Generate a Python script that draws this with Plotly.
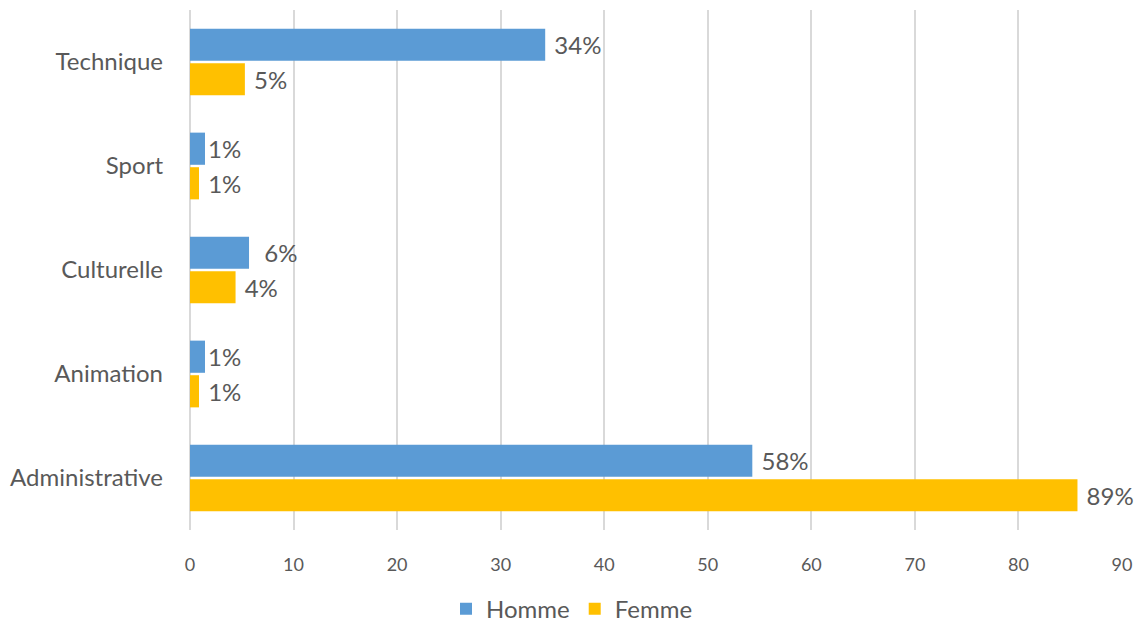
import plotly.graph_objects as go

categories = ["Technique", "Sport", "Culturelle", "Animation", "Administrative"]
homme_values = [34.3, 1.45, 5.7, 1.45, 54.3]
femme_values = [5.3, 0.87, 4.4, 0.87, 85.7]
homme_labels = ["\u00a034%", "1%", "\u00a0\u00a06%", "1%", "\u00a058%"]
femme_labels = ["\u00a05%", "\u00a01%", "\u00a04%", "\u00a01%", "\u00a089%"]
x_ticks = [0, 10, 20, 30, 40, 50, 60, 70, 80, 90]

FONT = "Lato, 'Open Sans', sans-serif"
GRAY = "#595959"

fig = go.Figure()
fig.add_trace(go.Bar(
    y=categories, x=homme_values, name="Homme", orientation="h",
    marker=dict(color="#5B9BD5", line=dict(width=0)),
    text=homme_labels, textposition="outside", constraintext="none",
    cliponaxis=False, textfont=dict(family=FONT, size=24, color=GRAY),
))
fig.add_trace(go.Bar(
    y=categories, x=femme_values, name="Femme", orientation="h",
    marker=dict(color="#FFC000", line=dict(width=0)),
    text=femme_labels, textposition="outside", constraintext="none",
    cliponaxis=False, textfont=dict(family=FONT, size=24, color=GRAY),
))

fig.update_layout(
    width=1144, height=628,
    margin=dict(l=190, r=22, t=10, b=98, autoexpand=False),
    paper_bgcolor="white", plot_bgcolor="white",
    barmode="group", bargap=0.335, bargroupgap=0.07,
    font=dict(family=FONT, color=GRAY),
    showlegend=True,
    legend=dict(orientation="h", xref="container", yref="container",
                x=0.5, xanchor="center", y=0.03, yanchor="middle",
                font=dict(family=FONT, size=24, color=GRAY),
                traceorder="normal"),
    xaxis=dict(range=[0, 90], tickvals=x_ticks, showgrid=True, gridcolor="#d9d9d9",
               gridwidth=1.5, zeroline=True, zerolinecolor="#d9d9d9", zerolinewidth=1.5,
               showline=False, ticks="", ticklabelstandoff=22,
               tickfont=dict(family=FONT, size=18, color=GRAY), fixedrange=True),
    yaxis=dict(categoryorder="array", categoryarray=categories, autorange="reversed",
               showgrid=False, showline=False, ticks="", ticklabelstandoff=26,
               tickfont=dict(family=FONT, size=24, color=GRAY)),
)

fig.write_html("out.html")
